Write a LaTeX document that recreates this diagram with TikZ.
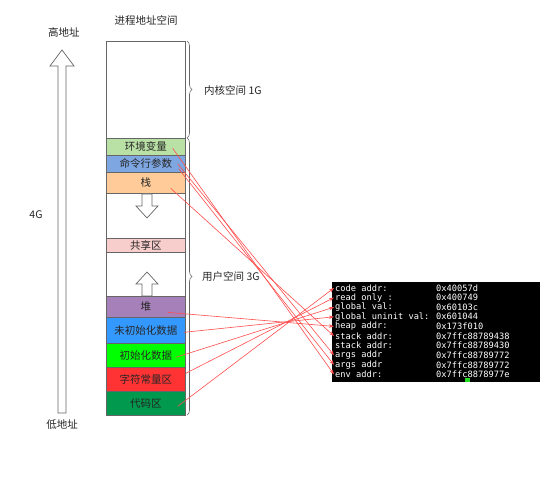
\documentclass[tikz,border=0pt]{standalone}
\usepackage{fontspec}
\setmainfont{Noto Sans CJK SC}
\newfontfamily\monof{DejaVu Sans Mono}
\usetikzlibrary{arrows.meta,decorations.pathreplacing,calc}
\definecolor{cenv}{HTML}{B9E0A5}
\definecolor{cargs}{HTML}{7EA6E0}
\definecolor{cstack}{HTML}{FFCC99}
\definecolor{cshare}{HTML}{F8CECC}
\definecolor{cheap}{HTML}{A680B8}
\definecolor{cuninit}{HTML}{3399FF}
\definecolor{cinit}{HTML}{00FF00}
\definecolor{cconst}{HTML}{FF3333}
\definecolor{ccode}{HTML}{00994D}
\definecolor{cline}{HTML}{FF4D4D}
\definecolor{cgrey}{HTML}{666666}
\definecolor{ccursor}{HTML}{22DD22}
\begin{document}
\begin{tikzpicture}[x=1pt,y=-1pt,
  lbl/.style={inner sep=0pt, font=\fontsize{10.5}{12}\selectfont, text=black!85},
  seg/.style={draw=cgrey, line width=0.7pt, minimum width=79pt, anchor=north west, inner sep=0pt, font=\fontsize{10.5}{12}\selectfont, text=black!85},
  hollow/.style={draw=cgrey, line width=0.7pt, fill=white, line join=miter},
  bracestyle/.style={draw=cgrey, line width=0.6pt, decorate, decoration={brace, amplitude=5pt}},
  ptr/.style={draw=cline, line width=0.6pt, -{Stealth[length=5pt,width=3.5pt]}},
  term/.style={anchor=west, inner sep=1pt, text=white, font=\monof\fontsize{8.7}{9}\selectfont}]
\useasboundingbox (0,0) rectangle (558,500);
\fill[white] (0,0) rectangle (558,500);

% titles
\node[lbl] (title) at (146,20) {进程地址空间};
\node[lbl] (high) at (64,32) {高地址};
\node[lbl] (low) at (62,425) {低地址};
\node[lbl] (fourg) at (36,215) {4G};

% big address arrow
\draw[hollow] (58,413) -- (58,66) -- (50,66) -- (62,50) -- (74,66) -- (66,66) -- (66,413) -- cycle;

% column
\node[seg, minimum height=97pt] (kern) at (106,41) {};
\node[seg, minimum height=17pt, fill=cenv] (env) at (106,138) {环境变量};
\node[seg, minimum height=17pt, fill=cargs] (args) at (106,155) {命令行参数};
\node[seg, minimum height=21pt, fill=cstack] (stack) at (106,172) {栈};
\node[seg, minimum height=45pt] (gap1) at (106,193) {};
\node[seg, minimum height=14pt, fill=cshare] (share) at (106,238) {共享区};
\node[seg, minimum height=44pt] (gap2) at (106,252) {};
\node[seg, minimum height=21pt, fill=cheap] (heap) at (106,296) {堆};
\node[seg, minimum height=26pt, fill=cuninit] (uninit) at (106,317) {未初始化数据};
\node[seg, minimum height=24pt, fill=cinit] (init) at (106,343) {初始化数据};
\node[seg, minimum height=24pt, fill=cconst] (const) at (106,367) {字符常量区};
\node[seg, minimum height=24pt, fill=ccode] (code) at (106,391) {代码区};

% growth arrows
\draw[hollow] (142,194) -- (152,194) -- (152,206) -- (158,206) -- (147,218) -- (136,206) -- (142,206) -- cycle;
\draw[hollow] (142,296) -- (152,296) -- (152,284) -- (158,284) -- (147,272) -- (136,284) -- (142,284) -- cycle;

% braces
\draw[bracestyle] (187,41) -- (187,138);
\draw[bracestyle] (187,138) -- (187,415);
\node[lbl, anchor=west] (kspace) at (204,90) {内核空间 1G};
\node[lbl, anchor=west] (uspace) at (202,277) {用户空间 3G};

% terminal
\fill[black] (332,282) rectangle (540,382);
\begin{scope}
\clip (332,282) rectangle (540,382);
\fill[ccursor] (465,378) rectangle (470,384);
\end{scope}
\node[term] (tcode) at (334,288) {code addr:};
\node[term] (tread) at (334,297.6) {read only :};
\node[term] (tgval) at (334,307.2) {global val:};
\node[term] (tguval) at (334,316.8) {global uninit val:};
\node[term] (theap) at (334,326.4) {heap addr:};
\node[term] (tstack) at (334,336) {stack addr:};
\node[term] (tstackb) at (334,345.6) {stack addr:};
\node[term] (targs) at (334,355.2) {args addr};
\node[term] (targsb) at (334,364.8) {args addr};
\node[term] (tenv) at (334,374.4) {env addr:};
\node[term] (vcode) at (435,288) {0x40057d};
\node[term] (vread) at (435,297.6) {0x400749};
\node[term] (vgval) at (435,307.2) {0x60103c};
\node[term] (vguval) at (435,316.8) {0x601044};
\node[term] (vheap) at (435,326.4) {0x173f010};
\node[term] (vstack) at (435,336) {0x7ffc88789438};
\node[term] (vstackb) at (435,345.6) {0x7ffc88789430};
\node[term] (vargs) at (435,355.2) {0x7ffc88789772};
\node[term] (vargsb) at (435,364.8) {0x7ffc88789772};
\node[term] (venv) at (435,374.4) {0x7ffc8878977e};

% pointers
\draw[ptr] ($(env.east)+(-13,1.5)$) -- (tenv.west);
\draw[ptr] ($(args.east)+(-8,0)$) -- (targs.west);
\draw[ptr] ($(args.east)+(-7,5)$) -- (targsb.west);
\draw[ptr] ($(stack.east)+(-15,5.5)$) -- (tstack.west);
\draw[ptr] ($(heap.east)+(-18,5.5)$) -- (theap.west);
\draw[ptr] ($(uninit.east)+(-2,2)$) -- (tguval.west);
\draw[ptr] ($(init.east)+(-10,2)$) -- (tgval.west);
\draw[ptr] ($(const.east)+(0,-6)$) -- (tread.west);
\draw[ptr] ($(code.east)+(-8,3)$) -- (tcode.west);
\end{tikzpicture}
\end{document}
